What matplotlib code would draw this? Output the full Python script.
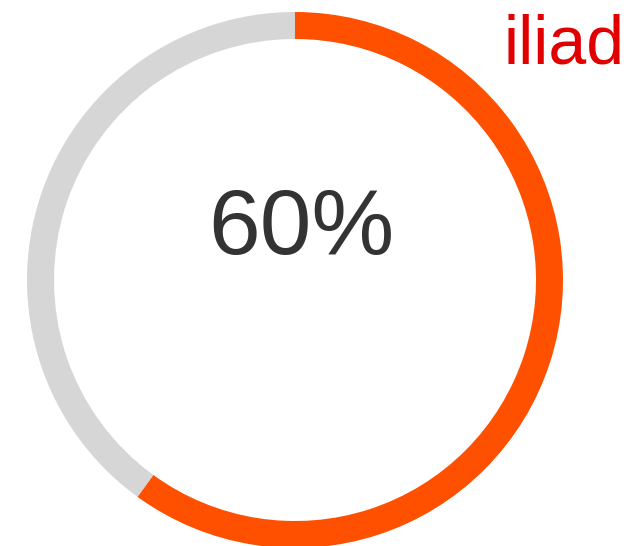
import matplotlib
matplotlib.use("Agg")
import matplotlib.pyplot as plt

labels = ["Done", "Remaining"]
values = [60, 40]
colors = ["#FF5000", "#D6D6D6"]
center_label = "60%"
logo_text = "iliad"

W, H = 628, 546
fig = plt.figure(figsize=(W / 100, H / 100), dpi=100)
ax = fig.add_axes([0, 0, 1, 1])
ax.pie(values, colors=colors, center=(295, H - 280), radius=268,
       startangle=90, counterclock=False,
       wedgeprops=dict(width=27, linewidth=0))
ax.set_xlim(0, W)
ax.set_ylim(0, H)
ax.set_aspect("equal")
ax.axis("off")

ax.text(301, H - 254, center_label, ha="center", va="baseline",
        fontsize=67, color="#333333", family=["Liberation Sans", "DejaVu Sans"])
ax.text(503, H - 63, logo_text, ha="left", va="baseline",
        fontsize=49, color="#E00000", family=["Liberation Sans", "DejaVu Sans"])

fig.savefig("out.png", dpi=100)
